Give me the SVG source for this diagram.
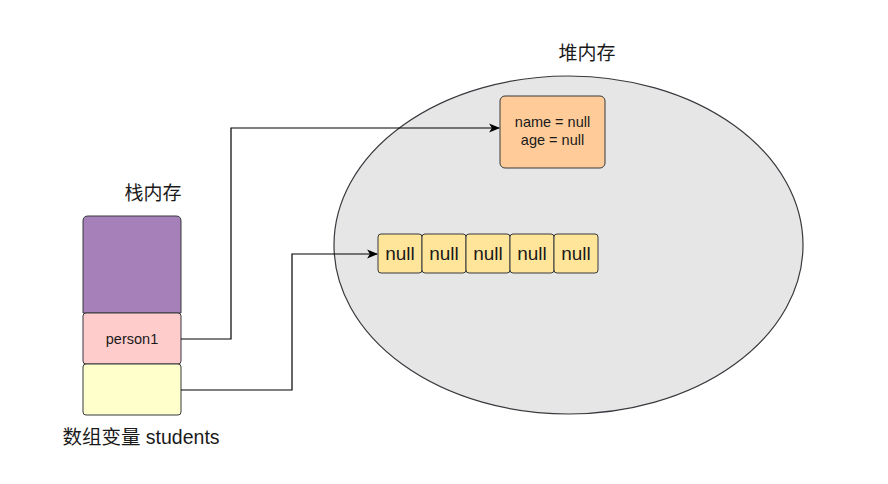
<svg xmlns="http://www.w3.org/2000/svg" width="888" height="484" viewBox="0 0 888 484">
<defs>
<style>
.t{font-family:"Liberation Sans","Noto Sans CJK SC",sans-serif;fill:#1a1a1a;text-anchor:middle}
.box{stroke:#36393d;stroke-width:1}
.cell{fill:#FFE599;stroke:#36393d;stroke-width:1}
.conn{fill:none;stroke:#000;stroke-width:1.2}
</style>
<marker id="arr" viewBox="0 0 10 10" refX="9" refY="5" markerWidth="11" markerHeight="11" markerUnits="userSpaceOnUse" orient="auto">
<path d="M0,1 L10,5 L0,9 L2.5,5 Z" fill="#000"/>
</marker>
</defs>
<rect width="888" height="484" fill="#fff"/>
<g id="heap">
<ellipse cx="568.5" cy="245" rx="234.5" ry="169" fill="#E6E6E6" stroke="#36393d" stroke-width="1.2"/>
<text class="t" x="587" y="60" font-size="19">堆内存</text>
</g>
<g id="stack-label"><text class="t" x="153" y="200" font-size="19">栈内存</text></g>
<g id="stack-top"><path class="box" d="M83,313 V221 Q83,216 88,216 H176 Q181,216 181,221 V313 Z" fill="#A680B8"/></g>
<g id="person1"><rect class="box" x="83" y="313" width="98" height="51" rx="3" fill="#FFCCCC"/><text class="t" x="132" y="344" font-size="14.5">person1</text></g>
<g id="students"><rect class="box" x="83" y="364" width="98" height="51" rx="3" fill="#FFFFCC"/></g>
<g id="students-label"><text class="t" x="141" y="444" font-size="19.5">数组变量 students</text></g>
<g id="object"><rect class="box" x="500" y="96" width="105" height="72" rx="5" fill="#FFCC99"/><text class="t" x="552.5" y="127" font-size="14.5">name = null</text><text class="t" x="552.5" y="145" font-size="14.5">age = null</text></g>
<g id="array">
<rect class="cell" x="378" y="234" width="44" height="39" rx="3"/>
<rect class="cell" x="422" y="234" width="44" height="39" rx="3"/>
<rect class="cell" x="466" y="234" width="44" height="39" rx="3"/>
<rect class="cell" x="510" y="234" width="44" height="39" rx="3"/>
<rect class="cell" x="554" y="234" width="44" height="39" rx="3"/>
<text class="t" x="400" y="260" font-size="19">null</text>
<text class="t" x="444" y="260" font-size="19">null</text>
<text class="t" x="488" y="260" font-size="19">null</text>
<text class="t" x="532" y="260" font-size="19">null</text>
<text class="t" x="576" y="260" font-size="19">null</text>
</g>
<g id="connectors">
<path class="conn" d="M181,339 H231 V128 H499" marker-end="url(#arr)"/>
<path class="conn" d="M181,390 H292 V254 H377" marker-end="url(#arr)"/>
</g>
</svg>
